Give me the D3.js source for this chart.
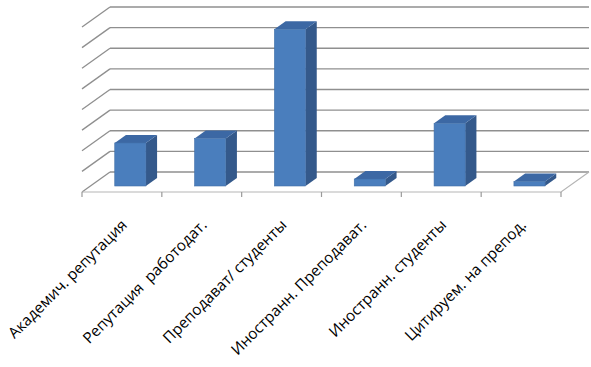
<!DOCTYPE html>
<html>
<head>
<meta charset="utf-8">
<script src="https://cdn.jsdelivr.net/npm/d3@7"></script>
<style>
  body { margin: 0; background: #fff; }
  text { font-family: "Open Sans", "DejaVu Sans", sans-serif; }
</style>
</head>
<body>
<div id="chart"></div>
<script>
// categories and values (gridline step = 10)
const categories = [
    "Академич. репутация",
    "Репутация  работодат.",
    "Преподават/ студенты",
    "Иностранн. Преподават.",
    "Иностранн. студенты",
    "Цитируем. на препод."
];
const values = [20.9, 23.0, 76.0, 3.4, 30.4, 2.2];
const gridTicks = [0, 10, 20, 30, 40, 50, 60, 70, 80];

const width = 591, height = 367;

// floor geometry: front edge and depth vector
const front = {x0: 82, x1: 561, y: 192};
const depth = {dx: 28, dy: -20};

const svg = d3.select("#chart")
    .append("svg")
    .attr("width", width)
    .attr("height", height);

const x = d3.scaleBand()
    .domain(categories)
    .range([front.x0, front.x1])
    .paddingInner(0.61)
    .paddingOuter(0.305);

const step = x.step();

const y = d3.scaleLinear()
    .domain([0, 80])
    .range([0, 165]);

// back wall gridlines + left wall diagonals
const grid = svg.append("g").attr("class", "grid");
gridTicks.forEach(t => {
    let by = front.y + depth.dy - y(t);
    grid.append("line")
        .attr("x1", front.x0 + depth.dx).attr("y1", by)
        .attr("x2", front.x1 + depth.dx).attr("y2", by)
        .attr("stroke", "#8f8f8f").attr("stroke-width", 1.3);
    grid.append("line")
        .attr("x1", front.x0 + depth.dx).attr("y1", by)
        .attr("x2", front.x0).attr("y2", by - depth.dy)
        .attr("stroke", "#8f8f8f").attr("stroke-width", 1.3);
});

// floor front and right edges
svg.append("path")
    .attr("d", "M" + front.x0 + "," + front.y + "L" + front.x1 + "," + front.y +
        "L" + (front.x1 + depth.dx) + "," + (front.y + depth.dy))
    .attr("fill", "none")
    .attr("stroke", "#b5b5b5")
    .attr("stroke-width", 1.2);

// category ticks
d3.range(categories.length + 1).forEach(i => {
    let tx = front.x0 + i * step;
    svg.append("line")
        .attr("x1", tx).attr("y1", front.y)
        .attr("x2", tx).attr("y2", front.y + 5)
        .attr("stroke", "#9a9a9a").attr("stroke-width", 1.2);
});

// 3d bars: front face at 0.3 of the depth, back at 0.7
const f1 = 0.3, f2 = 0.7;
const bars = svg.append("g").attr("class", "bars");

categories.forEach((c, i) => {
    let x0 = x(c) + depth.dx * f1;
    let x1 = x0 + x.bandwidth();
    let yb = front.y + depth.dy * f1;
    let yt = yb - y(values[i]);
    let ox = depth.dx * (f2 - f1), oy = depth.dy * (f2 - f1);

    // side
    bars.append("path")
        .attr("d", `M${x1},${yb}L${x1 + ox},${yb + oy}L${x1 + ox},${yt + oy}L${x1},${yt}Z`)
        .attr("fill", "#34598b");
    // top
    bars.append("path")
        .attr("d", `M${x0},${yt}L${x1},${yt}L${x1 + ox},${yt + oy}L${x0 + ox},${yt + oy}Z`)
        .attr("fill", "#3c68a4");
    // front
    bars.append("rect")
        .attr("x", x0).attr("y", yt)
        .attr("width", x1 - x0).attr("height", yb - yt)
        .attr("fill", "#4a7ebd")
        .attr("stroke", "#406fa8")
        .attr("stroke-width", 0.6);
});

// rotated category labels
svg.append("g").selectAll("text")
    .data(categories)
    .enter().append("text")
    .attr("transform", d => "translate(" + (x(d) + x.bandwidth() / 2 + 6) + "," + 226 + ") rotate(-45)")
    .attr("text-anchor", "end")
    .style("white-space", "pre")
    .attr("font-size", 15.3)
    .attr("fill", "#000")
    .text(d => d);
</script>
</body>
</html>
